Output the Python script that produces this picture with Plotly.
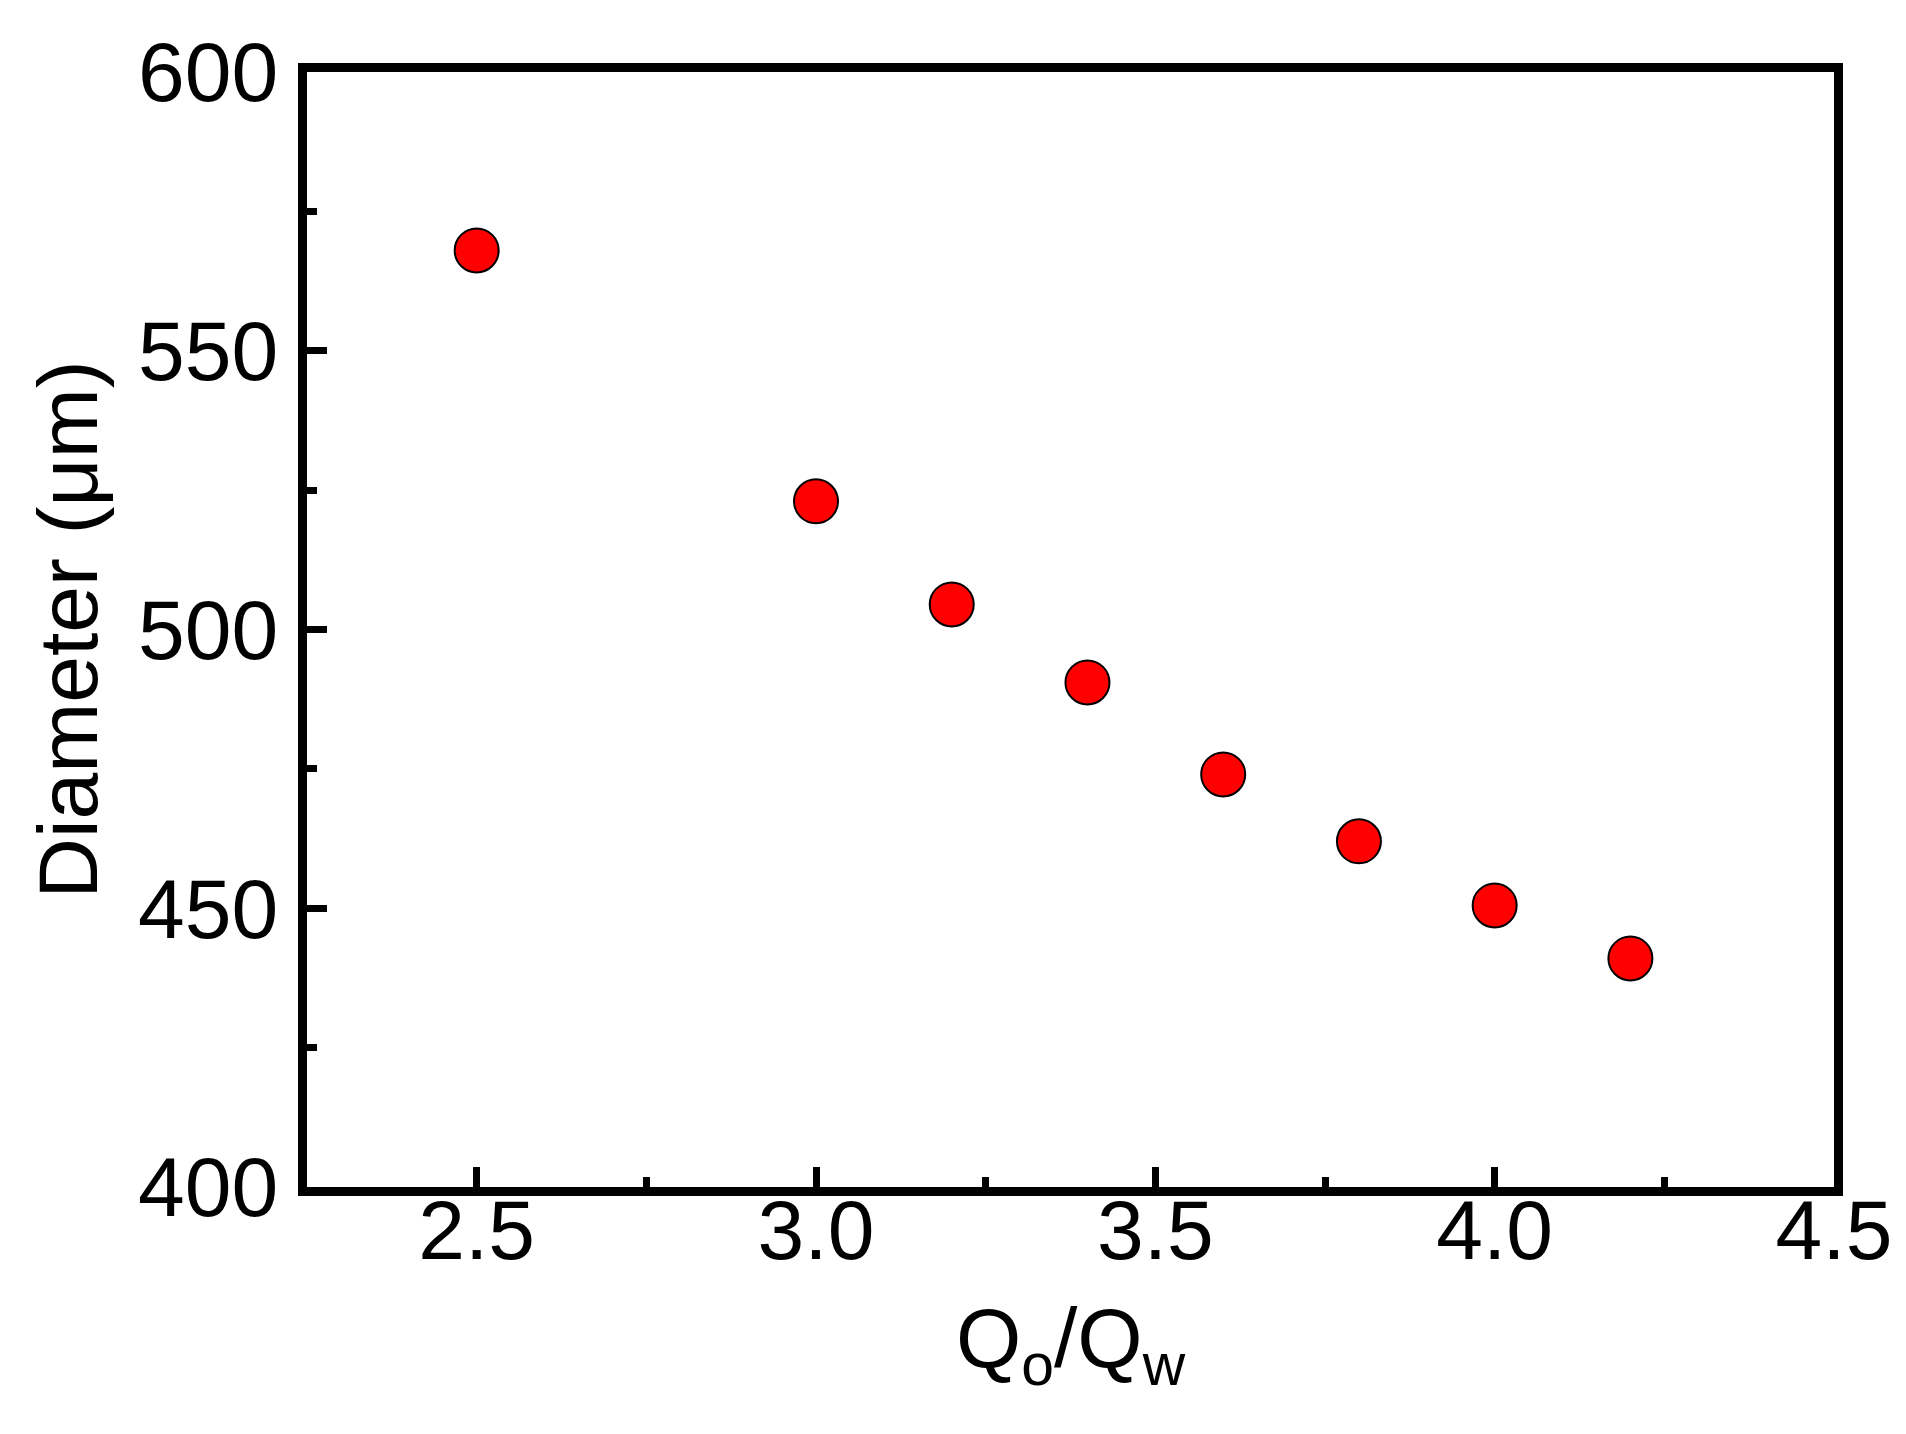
import plotly.graph_objects as go

flow_ratio = [2.5, 3.0, 3.2, 3.4, 3.6, 3.8, 4.0, 4.2]
diameter_um = [568, 523, 504.5, 490.5, 474, 462, 450.5, 441]

x_tickvals = [2.5, 3.0, 3.5, 4.0, 4.5]
x_ticktext = ["2.5", "3.0", "3.5", "4.0", "4.5"]
y_tickvals = [400, 450, 500, 550, 600]

FONT = "Arial, 'Liberation Sans', sans-serif"
FS = 84

fig = go.Figure()
fig.add_trace(go.Scatter(
    x=flow_ratio, y=diameter_um, mode="markers",
    marker=dict(size=44, color="#ff0000", line=dict(color="#000000", width=2)),
    showlegend=False,
))

axis_common = dict(
    showline=True, linecolor="black", linewidth=9, mirror=True,
    ticks="inside", ticklen=20, tickwidth=7, tickcolor="black",
    showgrid=False, zeroline=False,
    tickfont=dict(family=FONT, size=FS, color="black"),
)

fig.update_xaxes(
    range=[2.25, 4.5], tickvals=x_tickvals, ticktext=x_ticktext,
    ticklabelstandoff=-38,
    minor=dict(ticks="inside", ticklen=10, tickwidth=7, tickcolor="black", dtick=0.25, tick0=2.25, showgrid=False),
    title=dict(text="Q<sub>o</sub>/Q<sub>w</sub>", font=dict(family=FONT, size=FS, color="black"), standoff=36),
    **axis_common,
)
fig.update_yaxes(
    range=[400, 600], tickvals=y_tickvals,
    ticklabelstandoff=3,
    minor=dict(ticks="inside", ticklen=10, tickwidth=7, tickcolor="black", dtick=25, tick0=400, showgrid=False),
    title=dict(text="Diameter (μm)", font=dict(family=FONT, size=FS, color="black"), standoff=16),
    **axis_common,
)

fig.update_layout(
    width=1890, height=1418,
    margin=dict(l=299, r=64, t=64, b=239, autoexpand=False),
    plot_bgcolor="white", paper_bgcolor="white",
    font=dict(family=FONT, color="black"),
)

fig.write_html("out.html")
